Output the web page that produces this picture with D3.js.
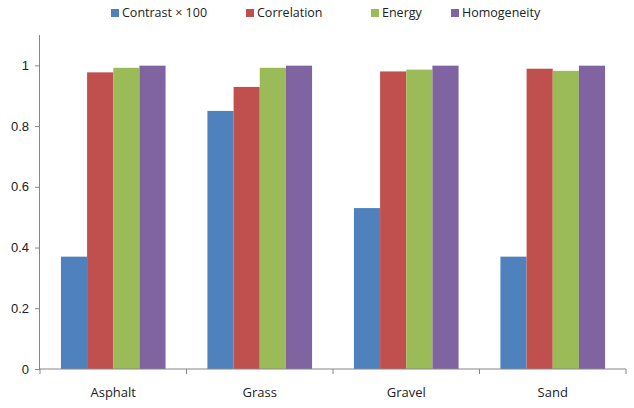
<!DOCTYPE html>
<html>
<head>
<meta charset="utf-8">
<script src="https://cdn.jsdelivr.net/npm/d3@7"></script>
<style>
  html, body { margin: 0; padding: 0; background: #fff; }
  svg { display: block; font-family: "Open Sans", "Noto Sans", sans-serif; }
</style>
</head>
<body>
<svg id="chart" width="634" height="408"></svg>
<script>
// Texture measures per surface type
const categories = ["Asphalt", "Grass", "Gravel", "Sand"];
const seriesNames = ["Contrast × 100", "Correlation", "Energy", "Homogeneity"];
const contrastX100 = [0.37, 0.85, 0.53, 0.37];
const correlation = [0.977, 0.929, 0.980, 0.989];
const energy = [0.992, 0.992, 0.986, 0.982];
const homogeneity = [0.999, 0.999, 0.999, 0.999];
const yTicks = [0, 0.2, 0.4, 0.6, 0.8, 1];
const colors = ["#4F81BD", "#C0504D", "#9BBB59", "#8064A2"];

const seriesValues = [contrastX100, correlation, energy, homogeneity];

const svg = d3.select("#chart");
const margin = { left: 40, right: 8, top: 35, bottom: 39 };
const W = 634, H = 408;

const x = d3.scaleBand()
  .domain(categories)
  .range([margin.left, W - margin.right])
  .paddingInner(0)
  .paddingOuter(0);

const inner = d3.scaleBand()
  .domain(seriesNames)
  .range([0, x.bandwidth()])
  .paddingOuter(0.8)
  .paddingInner(0);

const y = d3.scaleLinear()
  .domain([0, 1.1])
  .range([H - margin.bottom, margin.top]);

// Bars
categories.forEach((cat, ci) => {
  seriesNames.forEach((s, si) => {
    const v = seriesValues[si][ci];
    svg.append("rect")
      .attr("x", x(cat) + inner(s))
      .attr("y", y(v))
      .attr("width", inner.bandwidth())
      .attr("height", y(0) - y(v))
      .attr("fill", colors[si]);
  });
});

// Y axis
const yAxis = d3.axisLeft(y)
  .tickValues(yTicks)
  .tickFormat(d3.format("~g"))
  .tickSize(5)
  .tickPadding(6);
const gy = svg.append("g")
  .attr("transform", `translate(${margin.left},0)`)
  .call(yAxis);
gy.select(".domain").attr("stroke", "#868686").attr("d", `M-0.5,${y(0)}V${margin.top}`);
gy.selectAll(".tick line").attr("stroke", "#868686");
gy.selectAll(".tick text").attr("fill", "#222").style("font-size", "13px");

// X axis with ticks at category boundaries
const gx = svg.append("g")
  .attr("transform", `translate(0,${y(0)})`);
gx.append("line")
  .attr("x1", margin.left).attr("x2", W - margin.right)
  .attr("stroke", "#868686");
const bounds = categories.map(c => x(c)).concat([x(categories[categories.length - 1]) + x.bandwidth()]);
gx.selectAll(".bt").data(bounds).join("line")
  .attr("x1", d => d).attr("x2", d => d)
  .attr("y1", 0).attr("y2", 5)
  .attr("stroke", "#868686");
gx.selectAll(".cl").data(categories).join("text")
  .attr("x", d => x(d) + x.bandwidth() / 2)
  .attr("y", 28)
  .attr("text-anchor", "middle")
  .attr("fill", "#222")
  .style("font-size", "13px")
  .text(d => d);

// Legend
const legendX = [111, 246, 371, 451];
const lg = svg.append("g").attr("transform", "translate(0,13)");
seriesNames.forEach((s, i) => {
  lg.append("rect")
    .attr("x", legendX[i]).attr("y", -4)
    .attr("width", 8).attr("height", 8)
    .attr("fill", colors[i]);
  lg.append("text")
    .attr("x", legendX[i] + 11)
    .attr("y", 0)
    .attr("dy", "0.35em")
    .attr("fill", "#222")
    .style("font-size", "12.5px")
    .text(s);
});
</script>
</body>
</html>
